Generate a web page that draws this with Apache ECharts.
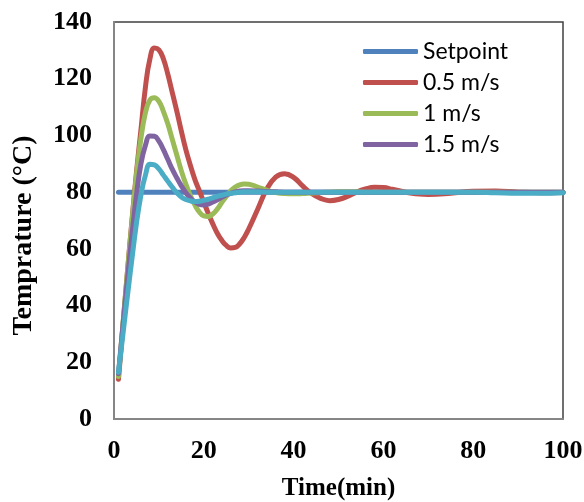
<!DOCTYPE html>
<html>
<head>
<meta charset="utf-8">
<script src="https://cdn.jsdelivr.net/npm/echarts@6/dist/echarts.min.js"></script>
<style>
    html,body{margin:0;padding:0;background:#fff;}
    #chart{width:584px;height:502px;}
</style>
</head>
<body>
<div id="chart"></div>
<script>
//data
var time=[1,2,3,4,5,6,7,8,9,10,11,12,13,14,15,16,17,18,19,20,21,22,23,24,25,26,27,28,29,30,
    32,34,36,38,40,42,44,46,48,50,52,54,56,58,60,62,64,66,68,70,75,80,85,90,95,100];
var setTime=[1,100];
var setValue=[80,80];
var v05=[14,33,52,70,87,102,117,127,130.8,130.2,127,121.5,115,108.5,101.5,95,89.5,84.5,80.5,76.5,
    72.5,68.8,65.5,63,61.2,60.3,60.5,61.8,64,67,
    74,81,85.3,86.5,85.2,82.2,79.5,77.8,77,77.4,78.5,80,81.1,81.7,81.6,81,80.3,79.7,79.3,79.2,
    79.6,80.3,80.4,80,79.8,79.9];
var v1=[15,33.5,52,69.5,86,99,108,112.5,113.3,112,108.5,104,98.5,93,87.5,82.8,78.8,75.5,73,71.6,
    71.4,72.3,74,76.3,78.5,80.5,81.8,82.6,82.9,82.8,
    81.8,80.7,79.9,79.5,79.4,79.5,79.7,79.9,80,80.1,80.1,80.1,80,80,80,80,80,80,80,80,
    80,80,80,80,80,80];
var v15=[16,33,49.5,65,79,90,96.5,99.8,99.7,98,95,91.5,88,85,82.2,79.8,77.9,76.5,75.7,75.5,
    75.8,76.5,77.3,78.2,79,79.6,80.1,80.4,80.5,80.5,
    80.4,80.2,80.1,80,80,80,80,80,80,80,80,80,80,80,80,80,80,80,80,80,
    80,80,80,80,80,80];
var v2=[16.5,30,43.5,56.5,69,79,86,89.8,89.6,88.2,86,83.8,81.7,79.8,78.3,77.4,76.9,76.7,76.8,77.1,
    77.5,78,78.5,78.9,79.3,79.6,79.8,80,80.1,80.1,
    80.1,80,80,80,80,80,80,80,80,80,80,80,80,80,80,80,80,80,80,80,
    80,80,79.8,79.6,79.6,79.8];
var xTicks=[0,20,40,60,80,100];
var yTicks=[0,20,40,60,80,100,120,140];

function pairs(xs,ys){
    return xs.map(function(x,i){return [x,ys[i]];});
}
function line(name,color,xs,ys){
    return {
        name:name,type:"line",smooth:0.45,showSymbol:false,symbol:"none",
        lineStyle:{width:5,color:color,cap:"round",join:"round"},
        itemStyle:{color:color},
        data:pairs(xs,ys)
    };
}

var serif="'Liberation Serif','Times New Roman',serif";
var option={
    animation:false,
    grid:{left:114,right:21,top:22,bottom:83,outerBoundsMode:"none",containLabel:false,
        show:true,borderColor:"#404040",borderWidth:1.5},
    legend:{
        data:["Setpoint","0.5 m/s","1 m/s","1.5 m/s"],
        orient:"vertical",left:358,top:35,itemWidth:55,itemHeight:5,itemGap:8,
        icon:"roundRect",
        textStyle:{fontFamily:"Lato",fontSize:23,color:"#000",lineHeight:23}
    },
    xAxis:{
        type:"value",min:xTicks[0],max:xTicks[xTicks.length-1],interval:20,
        name:"Time(min)",nameLocation:"middle",nameGap:57,
        nameTextStyle:{fontFamily:serif,fontWeight:"bold",fontSize:25,color:"#000"},
        axisLine:{show:true,lineStyle:{color:"#868686",width:2}},
        axisTick:{show:false},splitLine:{show:false},
        axisLabel:{margin:19,fontFamily:serif,fontWeight:"bold",fontSize:26,color:"#000"}
    },
    yAxis:{
        type:"value",min:yTicks[0],max:yTicks[yTicks.length-1],interval:20,
        name:"Temprature (°C)",nameLocation:"middle",nameGap:76,
        nameTextStyle:{fontFamily:serif,fontWeight:"bold",fontSize:28,color:"#000",padding:[0,30,0,0]},
        axisLine:{show:true,lineStyle:{color:"#868686",width:2}},
        axisTick:{show:false},splitLine:{show:false},
        axisLabel:{margin:22,fontFamily:serif,fontWeight:"bold",fontSize:26,color:"#000"}
    },
    series:[
        line("Setpoint","#4F81BD",setTime,setValue),
        line("0.5 m/s","#C0504D",time,v05),
        line("1 m/s","#9BBB59",time,v1),
        line("1.5 m/s","#8064A2",time,v15),
        line("2 m/s","#4BACC6",time,v2)
    ]
};
echarts.init(document.getElementById("chart")).setOption(option);
</script>
</body>
</html>
